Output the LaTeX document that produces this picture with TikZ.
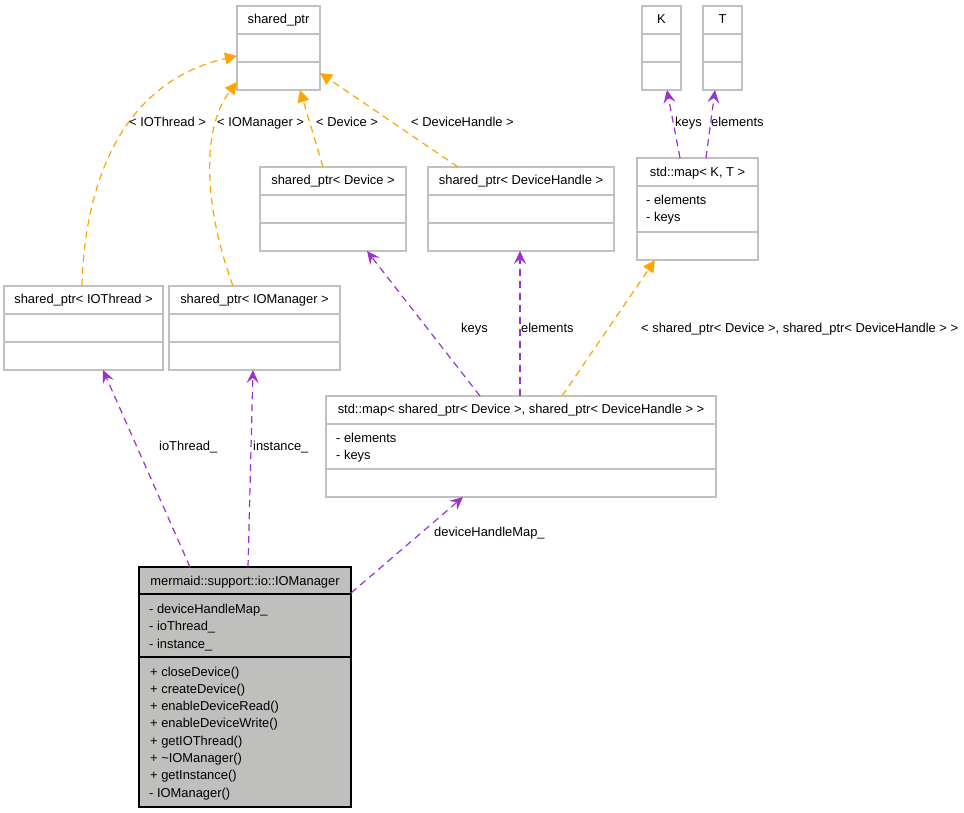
\documentclass[tikz,border=0pt]{standalone}
\usepackage{fontspec}
\setmainfont{Liberation Sans}
\usetikzlibrary{arrows.meta,calc}
\definecolor{dpurple}{HTML}{9A32CD}
\definecolor{dorange}{HTML}{FFA500}
\definecolor{boxline}{HTML}{C0C0C0}
\definecolor{curfill}{HTML}{BFBFBD}
\begin{document}
\begin{tikzpicture}[x=1pt,y=-1pt,
  font=\fontsize{12.9}{17}\selectfont,
  cls/.style={draw=boxline, line width=1.1pt, fill=white, rectangle, inner sep=0pt, outer sep=0pt, anchor=north west},
  cur/.style={draw=black, line width=1.3pt, fill=curfill, rectangle, inner sep=0pt, outer sep=0pt, anchor=north west},
  sepl/.style={draw=boxline, line width=1.1pt},
  cursep/.style={draw=black, line width=1.3pt},
  ttl/.style={inner sep=0pt, anchor=base},
  mem/.style={inner sep=0pt, anchor=base west},
  elabel/.style={inner sep=0pt, anchor=base west},
  uses/.style={draw=dpurple, line width=1.2pt, dash pattern=on 7pt off 5pt, -{Stealth[length=13pt,width=12pt,inset=5pt]}},
  inh/.style={draw=dorange, line width=1.2pt, dash pattern=on 7pt off 5pt, -{Triangle[length=12pt,width=12pt]}}
]
\useasboundingbox[fill=white] (0,0) rectangle (964,813);

% ---------- boxes ----------
% shared_ptr
\node[cls, minimum width=83pt, minimum height=84pt] (sp) at (237,6) {};
\draw[sepl] (237,34) -- (320,34) (237,62) -- (320,62);
\node[ttl] (spT) at (278.5,23.5) {shared\_ptr};

% shared_ptr< Device >
\node[cls, minimum width=146pt, minimum height=84pt] (spd) at (260,167) {};
\draw[sepl] (260,195) -- (406,195) (260,223) -- (406,223);
\node[ttl] (spdT) at (333,185) {shared\_ptr< Device >};

% shared_ptr< DeviceHandle >
\node[cls, minimum width=186pt, minimum height=84pt] (spdh) at (428,167) {};
\draw[sepl] (428,195) -- (614,195) (428,223) -- (614,223);
\node[ttl] (spdhT) at (521,185) {shared\_ptr< DeviceHandle >};

% shared_ptr< IOThread >
\node[cls, minimum width=159pt, minimum height=84pt] (spt) at (4,286) {};
\draw[sepl] (4,314) -- (163,314) (4,342) -- (163,342);
\node[ttl] (sptT) at (83.5,303.5) {shared\_ptr< IOThread >};

% shared_ptr< IOManager >
\node[cls, minimum width=171pt, minimum height=84pt] (spm) at (169,286) {};
\draw[sepl] (169,314) -- (340,314) (169,342) -- (340,342);
\node[ttl] (spmT) at (254.5,303.5) {shared\_ptr< IOManager >};

% K
\node[cls, minimum width=39pt, minimum height=84pt] (K) at (642,6) {};
\draw[sepl] (642,34) -- (681,34) (642,62) -- (681,62);
\node[ttl] (KT) at (661.5,23.5) {K};

% T
\node[cls, minimum width=39pt, minimum height=84pt] (T) at (703,6) {};
\draw[sepl] (703,34) -- (742,34) (703,62) -- (742,62);
\node[ttl] (TT) at (722.5,23.5) {T};

% std::map< K, T >
\node[cls, minimum width=121pt, minimum height=102pt] (mkt) at (637,158) {};
\draw[sepl] (637,186) -- (758,186) (637,232) -- (758,232);
\node[ttl] (mktT) at (697.5,176.5) {std::map< K, T >};
\node[mem] (mktA1) at (646,205) {- elements};
\node[mem] (mktA2) at (646,222) {- keys};

% std::map< shared_ptr<Device>, shared_ptr<DeviceHandle> >
\node[cls, minimum width=390pt, minimum height=101pt] (msp) at (326,396) {};
\draw[sepl] (326,424) -- (716,424) (326,469) -- (716,469);
\node[ttl] (mspT) at (521,413.5) {std::map< shared\_ptr< Device >, shared\_ptr< DeviceHandle > >};
\node[mem] (mspA1) at (336,442) {- elements};
\node[mem] (mspA2) at (336,459) {- keys};

% mermaid::support::io::IOManager
\node[cur, minimum width=212pt, minimum height=240pt] (iom) at (139,567) {};
\draw[cursep] (139,594) -- (351,594) (139,657) -- (351,657);
\node[ttl] (iomT) at (245,585) {mermaid::support::io::IOManager};
\node[mem] (iomA1) at (149,613) {- deviceHandleMap\_};
\node[mem] (iomA2) at (149,630.5) {- ioThread\_};
\node[mem] (iomA3) at (149,648) {- instance\_};
\node[mem] (iomM1) at (150,676) {+ closeDevice()};
\node[mem] (iomM2) at (150,693.3) {+ createDevice()};
\node[mem] (iomM3) at (150,710.6) {+ enableDeviceRead()};
\node[mem] (iomM4) at (150,727.9) {+ enableDeviceWrite()};
\node[mem] (iomM5) at (150,745.2) {+ getIOThread()};
\node[mem] (iomM6) at (150,762.5) {+ \textasciitilde IOManager()};
\node[mem] (iomM7) at (150,779.8) {+ getInstance()};
\node[mem] (iomM8) at (149,797) {- IOManager()};

% ---------- connectors ----------
% template instantiations (orange)
\draw[inh] ($(spt.north west)+(78,0)$) .. controls (85,170) and (130,80) .. ($(sp.north west)+(0,50)$);
\draw[inh] ($(spm.north west)+(64,0)$) .. controls (205,210) and (200,130) .. ($(sp.north west)+(0,76)$);
\draw[inh] ($(spd.north west)+(63,0)$) -- ($(sp.north west)+(63,84)$);
\draw[inh] ($(spdh.north west)+(30,0)$) -- ($(sp.north west)+(83,67)$);
\draw[inh] ($(msp.north west)+(236,0)$) -- ($(mkt.north west)+(18,102)$);

% usage (purple)
\draw[uses] ($(mkt.north west)+(43,0)$) -- ($(K.north west)+(25,84)$);
\draw[uses] ($(mkt.north west)+(69,0)$) -- ($(T.north west)+(12,84)$);
\draw[uses] ($(msp.north west)+(154,0)$) -- ($(spd.north west)+(107,84)$);
\draw[uses] ($(msp.north west)+(194,0)$) -- ($(spdh.north west)+(92,84)$);
\draw[uses] ($(iom.north west)+(51,0)$) -- ($(spt.north west)+(99,84)$);
\draw[uses] ($(iom.north west)+(109,0)$) -- ($(spm.north west)+(84,84)$);
\draw[uses] ($(iom.north west)+(212,26)$) -- ($(msp.north west)+(137,101)$);

% ---------- connector labels ----------
\node[elabel] (l1) at (129,127) {< IOThread >};
\node[elabel] (l2) at (217,127) {< IOManager >};
\node[elabel] (l3) at (316,127) {< Device >};
\node[elabel] (l4) at (411,127) {< DeviceHandle >};
\node[elabel] (l5) at (675,127) {keys};
\node[elabel] (l6) at (711,127) {elements};
\node[elabel] (l7) at (461,332) {keys};
\node[elabel] (l8) at (521,332) {elements};
\node[elabel] (l9) at (641,332) {< shared\_ptr< Device >, shared\_ptr< DeviceHandle > >};
\node[elabel] (l10) at (159,450) {ioThread\_};
\node[elabel] (l11) at (253,450) {instance\_};
\node[elabel] (l12) at (434,536) {deviceHandleMap\_};
\end{tikzpicture}
\end{document}
